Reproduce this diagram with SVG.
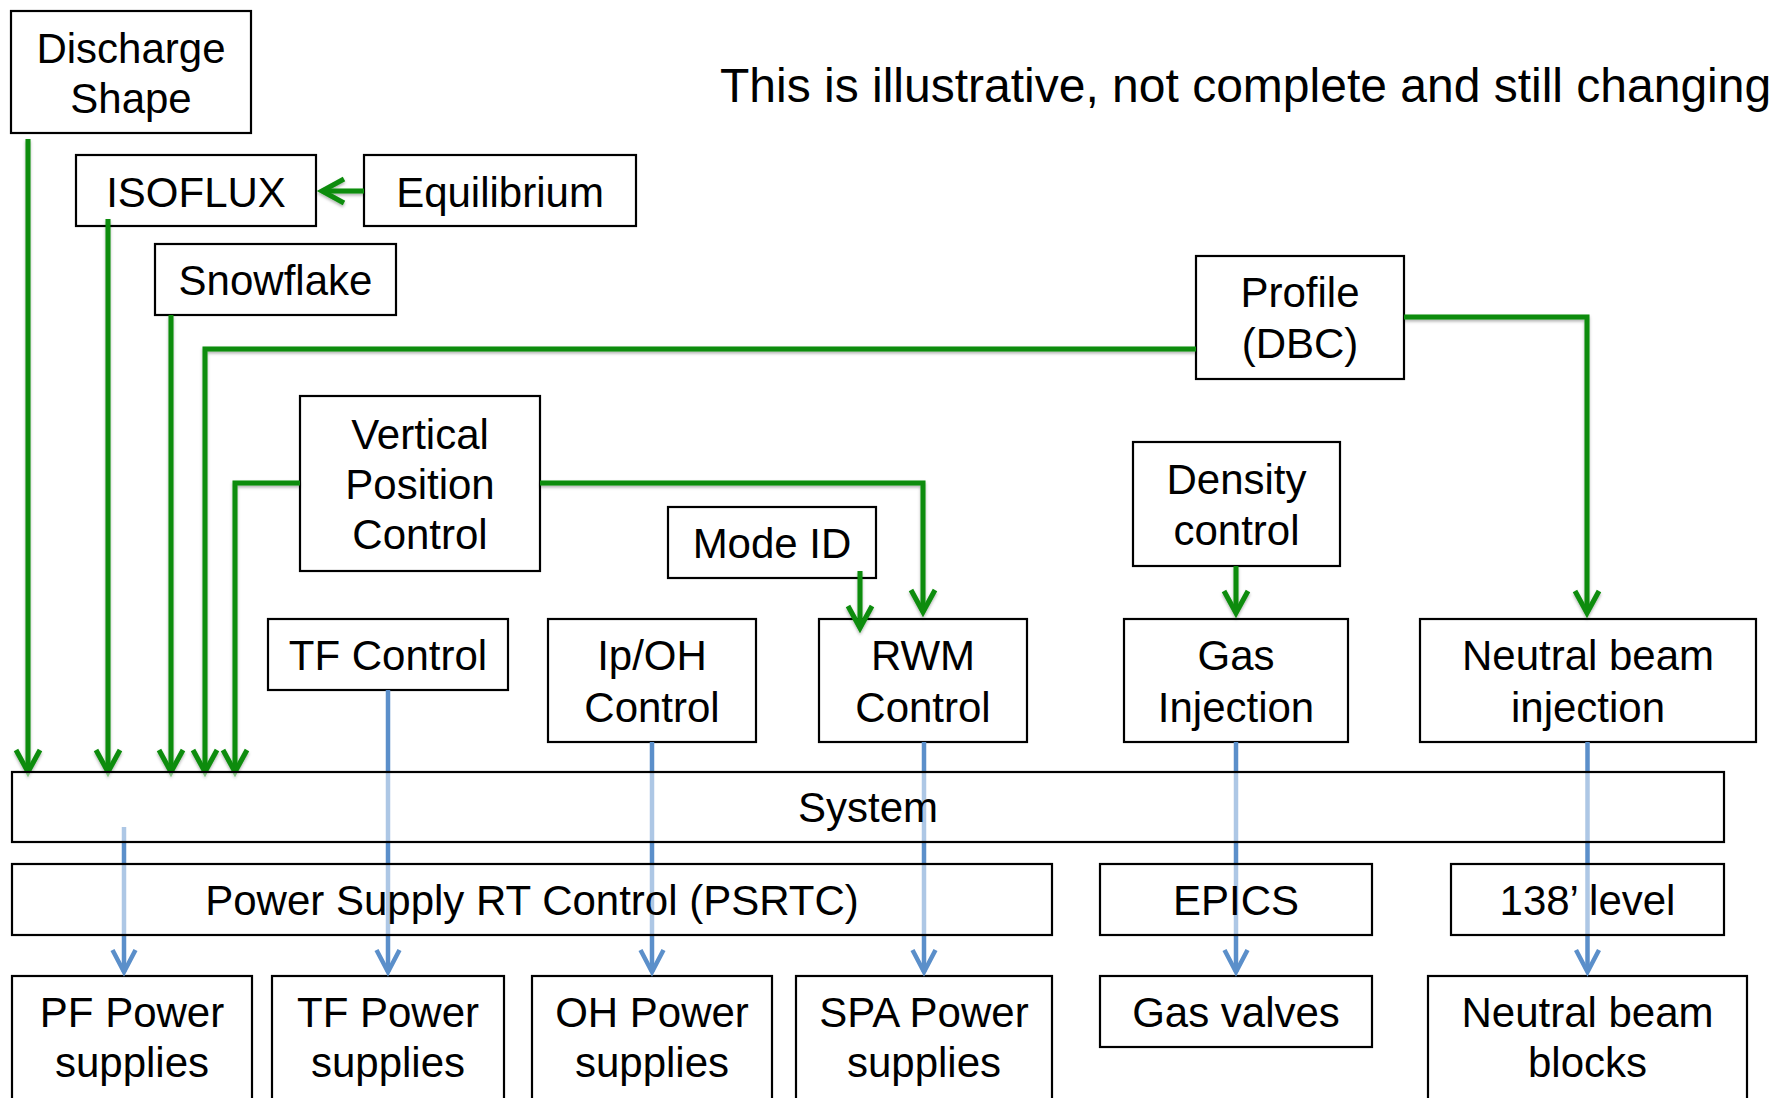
<svg xmlns="http://www.w3.org/2000/svg" width="1771" height="1098" viewBox="0 0 1771 1098">
<style>
  .box { fill: #ffffff; stroke: #000000; stroke-width: 2.2; }
  .ovl { fill: #ffffff; fill-opacity: 0.5; stroke: #000000; stroke-width: 2.2; }
  .t { font-family: "Liberation Sans", Arial, sans-serif; font-size: 42px; fill: #000000; text-anchor: middle; }
  .title { font-family: "Liberation Sans", Arial, sans-serif; font-size: 48px; fill: #000000; }
  .g { fill: none; stroke: #0a8c0a; stroke-width: 5; marker-end: url(#ag); filter: url(#sh); }
  .b { fill: none; stroke: #5b8fca; stroke-width: 4.5; marker-end: url(#ab); }
</style>
<defs>
  <filter id="sh" filterUnits="userSpaceOnUse" x="0" y="0" width="1771" height="1098">
    <feDropShadow dx="0" dy="2" stdDeviation="1.5" flood-color="#000000" flood-opacity="0.3"/>
  </filter>
  <marker id="ag" viewBox="-30 -16 36 32" refX="0" refY="0" markerWidth="36" markerHeight="32" markerUnits="userSpaceOnUse" orient="auto" overflow="visible">
    <path d="M-22,-12 L0,0 L-22,12" fill="none" stroke="#0a8c0a" stroke-width="5"/>
  </marker>
  <marker id="ab" viewBox="-30 -16 36 32" refX="0" refY="0" markerWidth="36" markerHeight="32" markerUnits="userSpaceOnUse" orient="auto" overflow="visible">
    <path d="M-22,-11.5 L0,0 L-22,11.5" fill="none" stroke="#5b8fca" stroke-width="4.5"/>
  </marker>
</defs>
<rect x="0" y="0" width="1771" height="1098" fill="#ffffff"/>

<text class="title" x="720" y="102">This is illustrative, not complete and still changing</text>

<g id="discharge-shape"><rect class="box" x="11" y="11" width="240" height="122"/><text class="t" x="131" y="63">Discharge</text><text class="t" x="131" y="113">Shape</text></g>
<g id="isoflux"><rect class="box" x="76" y="155" width="240" height="71"/><text class="t" x="196" y="207">ISOFLUX</text></g>
<g id="equilibrium"><rect class="box" x="364" y="155" width="272" height="71"/><text class="t" x="500" y="207">Equilibrium</text></g>
<g id="snowflake"><rect class="box" x="155" y="244" width="241" height="71"/><text class="t" x="275.5" y="295">Snowflake</text></g>
<g id="profile-dbc"><rect class="box" x="1196" y="256" width="208" height="123"/><text class="t" x="1300" y="307">Profile</text><text class="t" x="1300" y="358">(DBC)</text></g>
<g id="vertical-position-control"><rect class="box" x="300" y="396" width="240" height="175"/><text class="t" x="420" y="449">Vertical</text><text class="t" x="420" y="499">Position</text><text class="t" x="420" y="549">Control</text></g>
<g id="mode-id"><rect class="box" x="668" y="507" width="208" height="71"/><text class="t" x="772" y="558">Mode ID</text></g>
<g id="density-control"><rect class="box" x="1133" y="442" width="207" height="124"/><text class="t" x="1236.5" y="494">Density</text><text class="t" x="1236.5" y="545">control</text></g>
<g id="tf-control"><rect class="box" x="268" y="619" width="240" height="71"/><text class="t" x="388" y="670">TF Control</text></g>
<g id="ip-oh-control"><rect class="box" x="548" y="619" width="208" height="123"/><text class="t" x="652" y="670">Ip/OH</text><text class="t" x="652" y="722">Control</text></g>
<g id="rwm-control"><rect class="box" x="819" y="619" width="208" height="123"/><text class="t" x="923" y="670">RWM</text><text class="t" x="923" y="722">Control</text></g>
<g id="gas-injection"><rect class="box" x="1124" y="619" width="224" height="123"/><text class="t" x="1236" y="670">Gas</text><text class="t" x="1236" y="722">Injection</text></g>
<g id="neutral-beam-injection"><rect class="box" x="1420" y="619" width="336" height="123"/><text class="t" x="1588" y="670">Neutral beam</text><text class="t" x="1588" y="722">injection</text></g>
<g id="pf-power-supplies"><rect class="box" x="12" y="976" width="240" height="140"/><text class="t" x="132" y="1027">PF Power</text><text class="t" x="132" y="1077">supplies</text></g>
<g id="tf-power-supplies"><rect class="box" x="272" y="976" width="232" height="140"/><text class="t" x="388" y="1027">TF Power</text><text class="t" x="388" y="1077">supplies</text></g>
<g id="oh-power-supplies"><rect class="box" x="532" y="976" width="240" height="140"/><text class="t" x="652" y="1027">OH Power</text><text class="t" x="652" y="1077">supplies</text></g>
<g id="spa-power-supplies"><rect class="box" x="796" y="976" width="256" height="140"/><text class="t" x="924" y="1027">SPA Power</text><text class="t" x="924" y="1077">supplies</text></g>
<g id="gas-valves"><rect class="box" x="1100" y="976" width="272" height="71"/><text class="t" x="1236" y="1027">Gas valves</text></g>
<g id="neutral-beam-blocks"><rect class="box" x="1428" y="976" width="319" height="140"/><text class="t" x="1587.5" y="1027">Neutral beam</text><text class="t" x="1587.5" y="1077">blocks</text></g>

<g id="connectors">
  <path class="g" d="M28,139 V772"/>
  <path class="g" d="M108,219 V772"/>
  <path class="g" d="M171,315 V772"/>
  <path class="g" d="M1196,349 H205 V772"/>
  <path class="g" d="M300,483 H235 V772"/>
  <path class="g" d="M540,483 H923 V612"/>
  <path class="g" d="M860,571 V628"/>
  <path class="g" d="M364,191 H322"/>
  <path class="g" d="M1236,566 V613"/>
  <path class="g" d="M1404,317 H1587 V613"/>
  <path class="b" d="M124,827 V972"/>
  <path class="b" d="M388,690 V972"/>
  <path class="b" d="M652,742 V972"/>
  <path class="b" d="M924,742 V972"/>
  <path class="b" d="M1236,742 V972"/>
  <path class="b" d="M1587.5,742 V972"/>
</g>

<g id="system"><rect class="ovl" x="12" y="772" width="1712" height="70"/><text class="t" x="868" y="822">System</text></g>
<g id="psrtc"><rect class="ovl" x="12" y="864" width="1040" height="71"/><text class="t" x="532" y="915">Power Supply RT Control (PSRTC)</text></g>
<g id="epics"><rect class="ovl" x="1100" y="864" width="272" height="71"/><text class="t" x="1236" y="915">EPICS</text></g>
<g id="level-138"><rect class="ovl" x="1451" y="864" width="273" height="71"/><text class="t" x="1587.5" y="915">138’ level</text></g>
</svg>
